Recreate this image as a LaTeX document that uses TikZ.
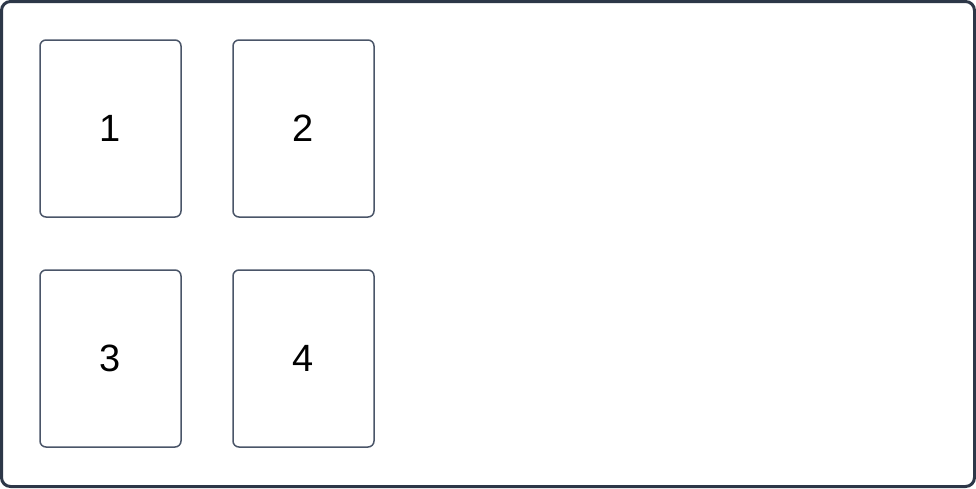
\documentclass[tikz,border=0pt]{standalone}
\usepackage{fontspec}
\setmainfont{Liberation Sans}
\definecolor{frame}{HTML}{2D3748}
\definecolor{boxline}{HTML}{4A5568}
\begin{document}
\begin{tikzpicture}[x=1pt,y=-1pt,
  cell/.style={draw=boxline,line width=1.5pt,rounded corners=6pt,minimum width=141pt,minimum height=177pt,inner sep=0pt,font=\fontsize{38}{44}\selectfont,text=black}]
\useasboundingbox (0,0) rectangle (976,488);
\draw[frame,line width=3pt,rounded corners=9pt] (1.5,1.5) rectangle (974.5,486.5);
\node[cell] (n1) at (110.5,128.5) {1};
\node[cell] (n2) at (303.5,128.5) {2};
\node[cell] (n3) at (110.5,358.5) {3};
\node[cell] (n4) at (303.5,358.5) {4};
\end{tikzpicture}
\end{document}
